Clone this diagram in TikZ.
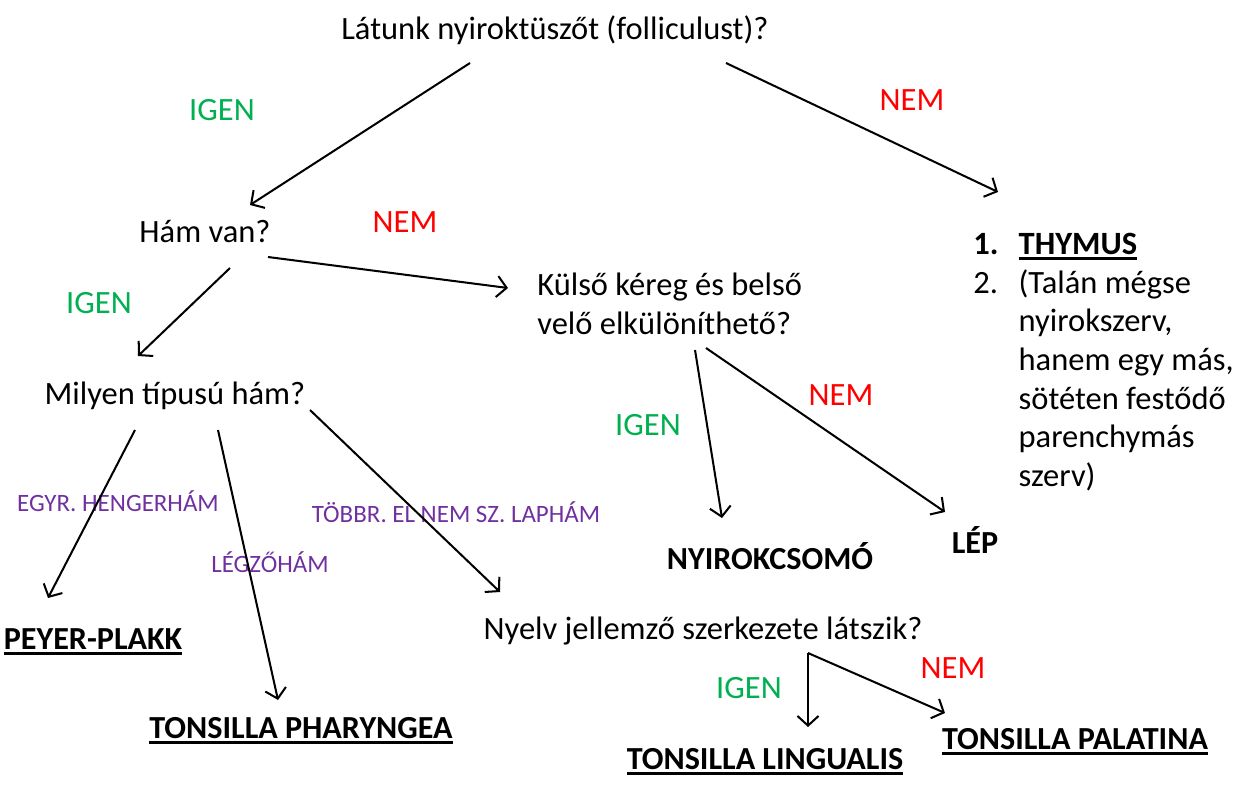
\documentclass[tikz,border=0pt]{standalone}
\usepackage{fontspec}
\setmainfont{Carlito}
\usetikzlibrary{arrows.meta}
\definecolor{igengreen}{RGB}{0,176,80}
\definecolor{nemred}{RGB}{255,0,0}
\definecolor{hampurple}{RGB}{112,48,160}
% thick underline: [thickness]{text}
\newcommand{\alahuz}[2][1.8pt]{\setbox0\hbox{#2}\rlap{\rule[\dimexpr-1.7pt-#1\relax]{\wd0}{#1}}\box0}

\begin{document}
\begin{tikzpicture}[x=0.02cm, y=-0.02cm,
    kerdes/.style={font=\fontsize{18.5}{22}\selectfont, inner sep=0pt},
    szerv/.style={font=\fontsize{18.3}{22}\selectfont\bfseries, inner sep=0pt},
    igen/.style={font=\fontsize{18.5}{22}\selectfont, text=igengreen, inner sep=0pt},
    nem/.style={font=\fontsize{18.5}{22}\selectfont, text=nemred, inner sep=0pt},
    hamtipus/.style={font=\fontsize{14.2}{17}\selectfont, text=hampurple, inner sep=0pt},
    nyil/.style={line width=1.15pt, -{Straight Barb[length=5.5pt,width=12pt]}}
]
\useasboundingbox (0,0) rectangle (1238,795);

% Questions
\node[kerdes] (folliculus) at (555,30) {Látunk nyiroktüszőt (folliculust)?};
\node[kerdes] (ham) at (205,232) {Hám van?};
\node[kerdes, align=left, anchor=west] (velo) at (537,304) {Külső kéreg és belső\\velő elkülöníthető?};
\node[kerdes] (tipus) at (175,396) {Milyen típusú hám?};
\node[kerdes] (nyelv) at (703,631) {Nyelv jellemző szerkezete látszik?};

% Organs
\node[szerv, anchor=base] (peyer) at (93,649) {\alahuz{PEYER-PLAKK}};
\node[szerv, anchor=base] (pharyngea) at (301,738) {\alahuz{TONSILLA PHARYNGEA}};
\node[szerv] (nyirokcsomo) at (770,556) {NYIROKCSOMÓ};
\node[szerv] (lep) at (975,540) {LÉP};
\node[szerv, anchor=base] (lingualis) at (765,769) {\alahuz{TONSILLA LINGUALIS}};
\node[szerv, anchor=base] (palatina) at (1075,749) {\alahuz{TONSILLA PALATINA}};
\node[kerdes, anchor=north west] (thymus) at (973,227) {%
    \begin{tabular}{@{}l@{\hspace{0.62em}}l@{}}
    \textbf{1.} & \textbf{\alahuz[1.3pt]{THYMUS}}\\
    2. & (Talán mégse\\
       & nyirokszerv,\\
       & hanem egy más,\\
       & sötéten festődő\\
       & parenchymás\\
       & szerv)
    \end{tabular}};

% Answers on the branches
\foreach \name/\x/\y in {igenA/222/110, igenB/99/303, igenC/648/425, igenD/749/688} {
    \node[igen] (\name) at (\x,\y) {IGEN};
}
\foreach \name/\x/\y in {nemA/912/100, nemB/405/222, nemC/841/395, nemD/953/668} {
    \node[nem] (\name) at (\x,\y) {NEM};
}
\node[hamtipus] (hengerham) at (118,501) {EGYR. HENGERHÁM};
\node[hamtipus] (legzoham) at (270,562) {LÉGZŐHÁM};
\node[hamtipus] (lapham) at (456,512) {TÖBBR. EL NEM SZ. LAPHÁM};

% Arrow ends
\coordinate (f1) at (470,63);   \coordinate (f2) at (726,63);
\coordinate (h1) at (250,205);  \coordinate (t1) at (998,192);
\coordinate (h2) at (268,257);  \coordinate (v1) at (508,288);
\coordinate (h3) at (230,268);  \coordinate (m1) at (138,356);
\coordinate (m2) at (135,430);  \coordinate (p1) at (48,598);
\coordinate (m3) at (218,430);  \coordinate (p2) at (278,700);
\coordinate (m4) at (310,410);  \coordinate (n1) at (500,592);
\coordinate (v2) at (695,350);  \coordinate (c1) at (722,518);
\coordinate (v3) at (706,348);  \coordinate (l1) at (945,512);
\coordinate (n2) at (808,653);  \coordinate (g1) at (808,727);
\coordinate (g2) at (945,713);

\foreach \a/\b in {f1/h1, f2/t1, h2/v1, h3/m1, m2/p1, m3/p2, m4/n1, v2/c1, v3/l1, n2/g1, n2/g2} {
    \draw[nyil] (\a) -- (\b);
}

\end{tikzpicture}
\end{document}
